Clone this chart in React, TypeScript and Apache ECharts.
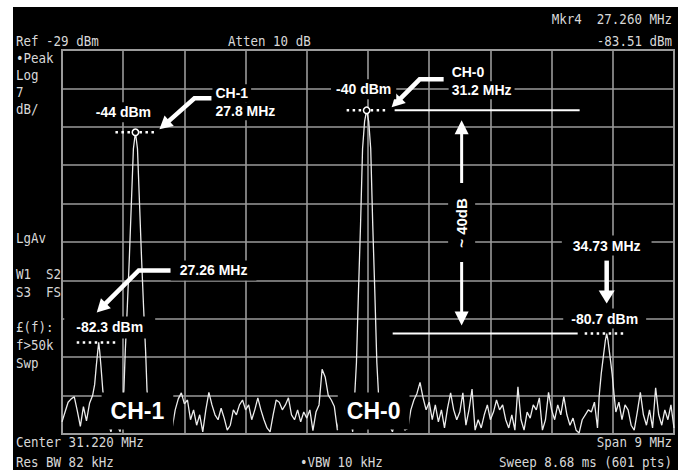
import React, { useEffect, useRef } from "react";
import * as echarts from "echarts";

// Sweep settings
const START_MHZ = 26.72;
const STOP_MHZ = 35.72;
const STEP_MHZ = 0.045;
const FREQ_DIV_MHZ = 0.9;
const REF_LEVEL_DBM = -29;
const DB_PER_DIV = 7;
const BOTTOM_DBM = -99;

// Noise floor on a 45 kHz grid from START_MHZ (null where a carrier replaces it)
const noiseDbm: (number | null)[] = [
  -96.8, -95.0, -93.2, -92.6, -92.2, -94.8, -97.6, -94.0, -96.6, -93.4,
  null, null, null, null, -95.0, -97.0, -98.6, -96.0, -97.5, -98.6,
  null, null, null, null, null, null, null, null, null, -96.5,
  -95.5, -97.0, -96.0, -97.5, -95.8, -97.0, -97.9, -94.6, -92.6, -91.5,
  -93.5, -92.8, -96.4, -94.6, -97.4, -95.5, -98.6, -94.6, -91.4, -93.7,
  -95.5, -96.4, -94.3, -96.1, -98.3, -97.4, -94.6, -95.5, -93.7, -92.8,
  -94.6, -93.7, -96.4, -94.6, -92.4, -94.6, -96.4, -97.9, -98.6, -95.5,
  -92.8, -93.2, -94.6, -93.7, -92.4, -95.5, -96.4, -94.6, -96.8, -95.0,
  -96.1, -94.6, -98.4, -95.0, -93.7, -87.2, -88.6, -91.9, -92.8, -94.0,
  -98.3, -94.6, -96.0, -97.0, -95.5, -98.6, null, null, null, null,
  null, null, null, null, -96.0, -97.0, -95.5, -97.5, -98.6, -96.0,
  -97.0, -95.8, -98.3, -98.0, -94.6, -92.8, -91.6, -89.6, -92.4, -94.6,
  -93.2, -96.4, -93.7, -96.8, -94.6, -97.9, -94.3, -91.5, -94.6, -96.4,
  -95.0, -91.5, -97.4, -94.6, -90.8, -98.3, -96.4, -97.9, -95.5, -93.7,
  -96.4, -95.0, -92.8, -94.6, -93.7, -96.4, -97.9, -95.5, -98.3, -90.4,
  -96.4, -98.3, -95.0, -96.1, -93.7, -94.6, -92.4, -98.3, -96.4, -91.4,
  -94.6, -96.4, -93.7, -95.5, -92.2, -95.5, -97.4, -96.1, -98.3, -98.8,
  -96.4, -95.5, -94.6, -95.0, -93.2, -97.9, null, null, null, null,
  null, -95.0, -93.2, -96.4, -93.7, -94.6, -97.4, -98.3, -95.0, -91.4,
  -95.5, -97.4, -94.6, -97.9, -90.6, -95.5, -97.4, -94.6, -96.4, -93.7,
  -97.9,
];

// Carrier responses as [MHz, dBm]
const spur2726: [number, number][] = [
  [27.17, -92], [27.2, -90], [27.225, -86.5], [27.245, -84], [27.26, -82.3],
  [27.275, -84], [27.295, -87], [27.32, -91], [27.345, -94],
];
const carrierCh1: [number, number][] = [
  [27.6, -95], [27.63, -91], [27.65, -84], [27.68, -76], [27.71, -67], [27.74, -57],
  [27.77, -47], [27.8, -44], [27.83, -47], [27.86, -57], [27.89, -67], [27.92, -76],
  [27.95, -84], [27.97, -91], [28.0, -95],
];
const carrierCh0: [number, number][] = [
  [31.02, -93], [31.05, -86], [31.08, -73], [31.11, -61], [31.14, -47], [31.17, -42],
  [31.2, -40], [31.23, -42], [31.26, -47], [31.29, -61], [31.32, -73], [31.35, -86],
  [31.38, -93],
];
const spur3473: [number, number][] = [
  [34.62, -92], [34.65, -88], [34.68, -85], [34.71, -82], [34.73, -80.7],
  [34.75, -82], [34.78, -85], [34.81, -88], [34.84, -92],
];

// Instrument readouts
const headerTexts = ["Ref -29 dBm", "Atten 10 dB", "Mkr4  27.260 MHz", "-83.51 dBm"];
const sideTexts = ["•Peak", "Log", "7", "dB/", "LgAv", "W1  S2", "S3  FS", "£(f):", "f>50k", "Swp"];
const footerTexts = ["Center 31.220 MHz", "Span 9 MHz", "Res BW 82 kHz", "•VBW 10 kHz", "Sweep 8.68 ms (601 pts)"];

const MONO = '12.5px "DejaVu Sans Mono", "Liberation Mono", monospace';
const BOLD = 'bold 14px "Liberation Sans", Arial, Helvetica, sans-serif';
const BIG = 'bold 23px "Liberation Sans", Arial, Helvetica, sans-serif';
const INK = "#d8d8d8";

function buildTrace(): [number, number][] {
  const pts: [number, number][] = [];
  noiseDbm.forEach((v, i) => {
    if (v !== null) pts.push([+(START_MHZ + i * STEP_MHZ).toFixed(3), v]);
  });
  return pts
    .concat(spur2726, carrierCh1, carrierCh0, spur3473)
    .sort((a, b) => a[0] - b[0]);
}

// Tall, narrow readout glyphs
const mono = (text: string, x: number, y: number, align = "left") => ({
  type: "text",
  z: 100,
  silent: true,
  x,
  y,
  scaleY: 1.18,
  style: { text, x: 0, y: 0, fill: INK, font: MONO, align, verticalAlign: "middle" },
});

const note = (text: string, x: number, y: number, align = "center", padding: number[] = [3, 5], font = BOLD) => ({
  type: "text",
  z: 120,
  silent: true,
  style: {
    text, x, y, fill: "#ffffff", font, align, verticalAlign: "middle",
    backgroundColor: "#000000", padding,
  },
});

const dots = (x1: number, x2: number, y: number) => ({
  type: "line",
  z: 110,
  silent: true,
  shape: { x1, y1: y, x2, y2: y },
  style: { stroke: "#ffffff", lineWidth: 2.5, lineDash: [2.5, 3.5] },
});

const rule = (x1: number, x2: number, y: number) => ({
  type: "line",
  z: 110,
  silent: true,
  shape: { x1, y1: y, x2, y2: y },
  style: { stroke: "#ffffff", lineWidth: 2 },
});

// Shaft through the given points, with a head at the last one
function arrow(points: number[][], width: number, len: number, half: number) {
  const tip = points[points.length - 1];
  const prev = points[points.length - 2];
  const dx = tip[0] - prev[0];
  const dy = tip[1] - prev[1];
  const d = Math.hypot(dx, dy);
  const ux = dx / d;
  const uy = dy / d;
  const bx = tip[0] - ux * len;
  const by = tip[1] - uy * len;
  const shaft = points.slice(0, -1).concat([[bx + ux * 1, by + uy * 1]]);
  return [
    {
      type: "polyline",
      z: 110,
      silent: true,
      shape: { points: shaft },
      style: { stroke: "#ffffff", lineWidth: width, fill: "none", lineJoin: "miter" },
    },
    {
      type: "polygon",
      z: 110,
      silent: true,
      shape: {
        points: [tip, [bx - uy * half, by + ux * half], [bx + uy * half, by - ux * half]],
      },
      style: { fill: "#ffffff" },
    },
  ];
}

const ring = (x: number, y: number) => ({
  type: "circle",
  z: 112,
  silent: true,
  shape: { cx: x, cy: y, r: 3.2 },
  style: { fill: "#000000", stroke: "#ffffff", lineWidth: 1.5 },
});

export default function App() {
  const ref = useRef<HTMLDivElement>(null);

  useEffect(() => {
    const chart = echarts.init(ref.current!, null, { renderer: "svg" });
    const gridLine = { show: true, lineStyle: { color: "#9a9a9a", width: 1.6 } };
    chart.setOption({
      animation: false,
      backgroundColor: "transparent",
      grid: {
        left: 62, top: 50, width: 612, height: 384, show: true,
        borderColor: "#a0a0a0", borderWidth: 2, backgroundColor: "transparent",
      },
      xAxis: {
        type: "value", min: START_MHZ, max: STOP_MHZ, interval: FREQ_DIV_MHZ,
        axisLabel: { show: false }, axisTick: { show: false }, axisLine: { show: false },
        splitLine: gridLine,
      },
      yAxis: {
        type: "value", min: BOTTOM_DBM, max: REF_LEVEL_DBM, interval: DB_PER_DIV,
        axisLabel: { show: false }, axisTick: { show: false }, axisLine: { show: false },
        splitLine: gridLine,
      },
      series: [
        {
          type: "line",
          data: buildTrace(),
          showSymbol: false,
          silent: true,
          z: 5,
          lineStyle: { color: "#ececec", width: 1.3 },
        },
      ],
    });

    const P = (f: number, d: number) => chart.convertToPixel({ gridIndex: 0 }, [f, d]) as number[];
    const a1 = P(27.8, -44);
    const a0 = P(31.2, -40);
    const a3 = P(34.73, -80.7);
    const a2 = P(27.26, -82.3);
    const floorY = P(START_MHZ, BOTTOM_DBM)[1];

    const els: any[] = [];

    // Readout text around the graticule
    els.push(mono(headerTexts[0], 16, 41));
    els.push(mono(headerTexts[1], 228, 41));
    els.push(mono(headerTexts[2], 672, 19, "right"));
    els.push(mono(headerTexts[3], 672, 41, "right"));
    const sideY = [58, 75, 92, 109, 238, 274, 292, 327, 345, 363];
    sideTexts.forEach((t, i) => els.push(mono(t, 16, sideY[i])));
    els.push(mono(footerTexts[0], 16, 442));
    els.push(mono(footerTexts[1], 672, 442, "right"));
    els.push(mono(footerTexts[2], 16, 462));
    els.push(mono(footerTexts[3], 300, 462));
    els.push(mono(footerTexts[4], 672, 462, "right"));

    // CH-1 carrier
    els.push(dots(a1[0] - 20, a1[0] + 22, a1[1]));
    els.push(ring(a1[0], a1[1]));
    els.push(note("-44 dBm", a1[0] - 12, a1[1] - 20));
    els.push(...arrow([[a1[0] + 76, a1[1] - 34], [a1[0] + 59, a1[1] - 34], [a1[0] + 24, a1[1] - 3]], 4.5, 13, 7));
    els.push(note("CH-1", a1[0] + 77, a1[1] - 39, "left", [2, 3]));
    els.push(note("27.8 MHz", a1[0] + 77, a1[1] - 21, "left", [2, 3]));

    // CH-0 carrier and its reference level
    els.push(rule(a0[0] + 28, a0[0] + 213, a0[1]));
    els.push(dots(a0[0] - 20, a0[0] + 22, a0[1]));
    els.push(ring(a0[0], a0[1]));
    els.push(note("-40 dBm", a0[0] - 3, a0[1] - 21));
    els.push(...arrow([[a0[0] + 77, a0[1] - 31], [a0[0] + 53, a0[1] - 31], [a0[0] + 25, a0[1] - 3]], 4.5, 13, 7));
    els.push(note("CH-0", a0[0] + 82, a0[1] - 38, "left", [2, 3]));
    els.push(note("31.2 MHz", a0[0] + 82, a0[1] - 20, "left", [2, 3]));

    // Spur at 34.73 MHz and its level
    els.push(rule(a3[0] - 214, a3[0] - 29, a3[1]));
    els.push(dots(a3[0] - 22, a3[0] + 20, a3[1]));
    els.push(note("-80.7 dBm", a3[0] - 2, a3[1] - 15, "center", [3, 8]));
    els.push(note("34.73 MHz", a3[0], a3[1] - 88, "center", [3, 11]));
    els.push(...arrow([[a3[0], a3[1] - 73], [a3[0], a3[1] - 30]], 4.5, 13, 8));

    // Spur at 27.26 MHz
    els.push(note("-82.3 dBm", a2[0] + 11, a2[1] - 15, "center", [4, 12]));
    els.push(dots(a2[0] - 22, a2[0] + 20, a2[1]));
    els.push(note("27.26 MHz", a2[0] + 72, a2[1] - 72, "left", [3, 9]));
    els.push(...arrow([[a2[0] + 72, a2[1] - 72], [a2[0] + 40, a2[1] - 72], [a2[0] - 2, a2[1] - 30]], 4.5, 13, 7));

    // Level difference between CH-0 and the 34.73 MHz spur
    const dx = a0[0] + 95;
    const topTip = a0[1] + 10;
    const botTip = a3[1] - 8;
    const mid = (topTip + botTip) / 2;
    els.push(...arrow([[dx, mid - 40], [dx, topTip]], 3, 14, 7));
    els.push(...arrow([[dx, mid + 39], [dx, botTip]], 3, 14, 7));
    els.push({
      type: "text",
      z: 120,
      silent: true,
      x: dx,
      y: mid,
      rotation: Math.PI / 2,
      style: {
        text: "~ 40dB", x: 0, y: 0, fill: "#ffffff", font: 'bold 15px "Liberation Sans", Arial, sans-serif',
        align: "center", verticalAlign: "middle", backgroundColor: "#000000", padding: [6, 4],
      },
    });

    // Channel tags along the noise floor
    els.push(note("CH-1", a1[0] + 2, floorY - 23, "center", [7, 9], BIG));
    els.push(note("CH-0", a0[0] + 7, floorY - 23, "center", [7, 9], BIG));

    chart.setOption({ graphic: { elements: els } });
    return () => chart.dispose();
  }, []);

  return (
    <div style={{ position: "absolute", left: 0, top: 0, width: 689, height: 470, background: "#ffffff" }}>
      <div style={{ position: "absolute", left: 13, top: 7, width: 665, height: 463, background: "#000000" }} />
      <div ref={ref} style={{ position: "absolute", left: 0, top: 0, width: 689, height: 470 }} />
    </div>
  );
}
